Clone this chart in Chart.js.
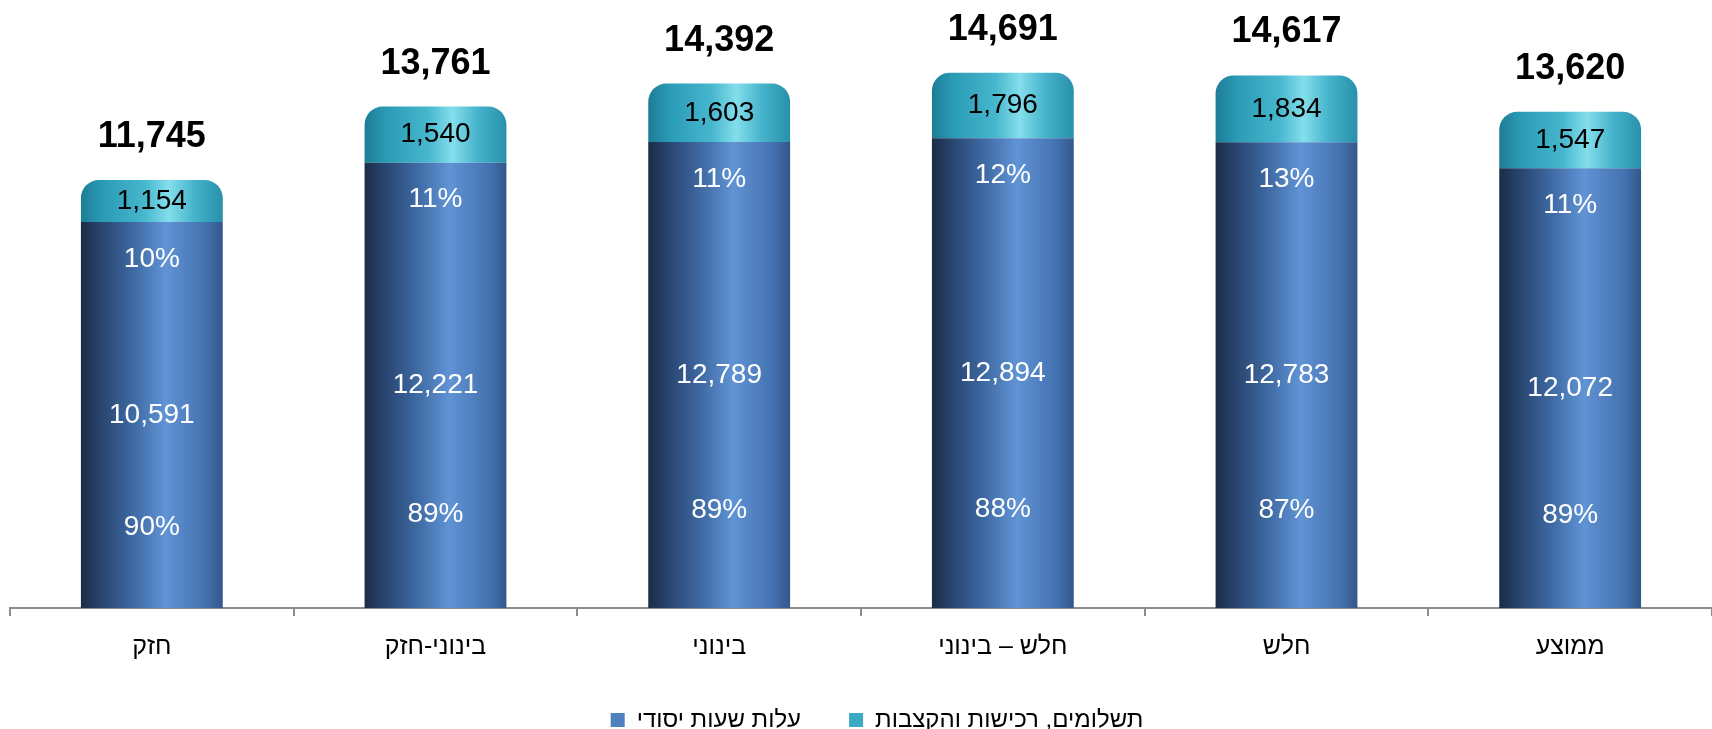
<!DOCTYPE html>
<html lang="he">
<head>
<meta charset="utf-8">
<title>עלות שעות יסודי</title>
<script src="https://cdn.jsdelivr.net/npm/chart.js@4.4.1/dist/chart.umd.min.js"></script>
<style>
  html, body { margin: 0; padding: 0; background: #fff; }
  #wrap { width: 1712px; height: 729px; position: relative; }
</style>
</head>
<body>
<div id="wrap"><canvas id="costChart"></canvas></div>
<script>
// Chart data
const categories = ["חזק", "בינוני-חזק", "בינוני", "חלש – בינוני", "חלש", "ממוצע"];
const basicHours = [10591, 12221, 12789, 12894, 12783, 12072];
const extraCosts = [1154, 1540, 1603, 1796, 1834, 1547];
const totals = [11745, 13761, 14392, 14691, 14617, 13620];
const basicPct = [90, 89, 89, 88, 87, 89];
const extraPct = [10, 11, 11, 12, 13, 11];
const seriesNames = ["עלות שעות יסודי", "תשלומים, רכישות והקצבות"];

const FONT = "'Liberation Sans', Arial, sans-serif";

// Gradient stops for the cylinder look
const blueStops = [
  [0, "#1b2c45"], [0.12, "#26416a"], [0.35, "#3c669e"],
  [0.6, "#6094d6"], [0.66, "#5a8bcc"], [0.88, "#4472b0"], [1, "#33578a"]
];
const cyanStops = [
  [0, "#1e7c96"], [0.15, "#2a9bb5"], [0.45, "#47b7ce"],
  [0.62, "#84deeb"], [0.8, "#45b3cb"], [1, "#2890aa"]
];

function barGradient(ctx, stops, fallback) {
  const chart = ctx.chart;
  const area = chart.chartArea;
  const xScale = chart.scales.x;
  if (!area || !xScale || ctx.dataIndex === undefined) return fallback;
  const cx = xScale.getPixelForValue(ctx.dataIndex);
  const half = (area.width / categories.length) * 0.5 / 2;
  const g = chart.ctx.createLinearGradient(cx - half, 0, cx + half, 0);
  stops.forEach((s) => g.addColorStop(s[0], s[1]));
  return g;
}

// Draws the numbers on and above the bars
const barLabels = {
  id: "barLabels",
  afterDatasetsDraw(chart) {
    const ctx = chart.ctx;
    const low = chart.getDatasetMeta(0).data;
    const top = chart.getDatasetMeta(1).data;
    ctx.save();
    ctx.textAlign = "center";
    ctx.textBaseline = "middle";
    low.forEach((bar, i) => {
      const x = bar.x;
      const h = bar.base - bar.y;
      ctx.fillStyle = "#fff";
      ctx.font = "28px " + FONT;
      ctx.fillText(basicHours[i].toLocaleString("en-US"), x, bar.y + h / 2);
      ctx.fillText(basicPct[i] + "%", x, bar.base - h * 0.21);
      ctx.fillText(extraPct[i] + "%", x, bar.y + 37);

      const cap = top[i];
      ctx.fillStyle = "#000";
      ctx.fillText(extraCosts[i].toLocaleString("en-US"), x, (cap.y + cap.base) / 2);
      ctx.font = "bold 36px " + FONT;
      ctx.fillText(totals[i].toLocaleString("en-US"), x, cap.y - 43);
    });
    ctx.restore();
  },
};

// Nudge the legend a bit to the right, like the original
const legendShift = {
  id: "legendShift",
  afterLayout(chart) {
    if (chart.legend) {
      chart.legend.left += 14;
      chart.legend.right += 14;
    }
  },
};

new Chart(document.getElementById("costChart"), {
  type: "bar",
  data: {
    labels: categories,
    datasets: [
      {
        label: seriesNames[0],
        data: basicHours,
        backgroundColor: (c) => barGradient(c, blueStops, "#4f81bd"),
        borderWidth: 0,
        borderSkipped: false,
        categoryPercentage: 1,
        barPercentage: 0.5,
      },
      {
        label: seriesNames[1],
        data: extraCosts,
        backgroundColor: (c) => barGradient(c, cyanStops, "#3aa9c4"),
        borderWidth: 0,
        borderSkipped: "bottom",
        borderRadius: { topLeft: 18, topRight: 18 },
        categoryPercentage: 1,
        barPercentage: 0.5,
      },
    ],
  },
  options: {
    responsive: true,
    maintainAspectRatio: false,
    animation: false,
    layout: {
      padding: { left: 10, right: -4, top: 25, bottom: -13 },
    },
    scales: {
      x: {
        stacked: true,
        grid: {
          offset: true,
          drawOnChartArea: false,
          drawTicks: true,
          tickLength: 8,
          color: "#8c8c8c",
          lineWidth: 2,
        },
        border: { color: "#8c8c8c", width: 2 },
        ticks: {
          color: "#000",
          padding: 16,
          font: { family: FONT, size: 25 },
        },
        afterFit(scale) {
          scale.height = 52;
        },
      },
      y: {
        stacked: true,
        display: false,
        min: 0,
        max: 16000,
      },
    },
    plugins: {
      legend: {
        position: "bottom",
        labels: {
          color: "#000",
          boxWidth: 14,
          boxHeight: 14,
          padding: 48,
          font: { family: FONT, size: 24 },
          generateLabels(chart) {
            const items = Chart.defaults.plugins.legend.labels.generateLabels(chart);
            const solid = ["#4f81bd", "#3aa9c4"];
            items.forEach((it, i) => {
              it.fillStyle = solid[i];
              it.strokeStyle = solid[i];
              it.lineWidth = 0;
            });
            return items;
          },
        },
      },
      tooltip: { enabled: true },
    },
  },
  plugins: [barLabels, legendShift],
});
</script>
</body>
</html>
